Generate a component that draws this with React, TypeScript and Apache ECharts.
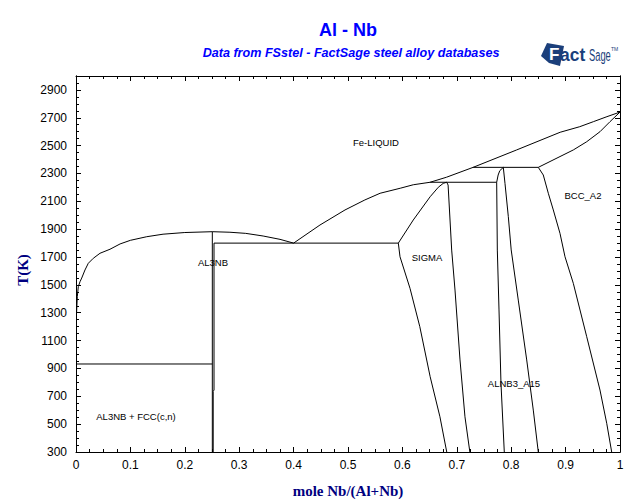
import React, { useEffect, useRef } from 'react';
import * as echarts from 'echarts';

type Pt = [number, number];

// Axis settings (values)
const xMin = 0;
const xMax = 1;
const xStep = 0.1;
const tMin = 300;
const tMax = 3000;
const tMajorStep = 200;
const tMinorStep = 50;

// Phase boundaries, [mole Nb/(Al+Nb), T (K)]
const liquidusAlSide: Pt[] = [
  [0.001, 1296], [0.0024, 1415], [0.0042, 1487], [0.0074, 1523], [0.0105, 1549],
  [0.0165, 1607], [0.0226, 1655], [0.0318, 1691], [0.0441, 1727], [0.0625, 1756],
  [0.081, 1794], [0.1, 1820], [0.13, 1846], [0.16, 1864], [0.2, 1876], [0.2506, 1882],
];
const liquidusAl3NbRight: Pt[] = [
  [0.2506, 1882], [0.283, 1878], [0.312, 1870], [0.344, 1851], [0.375, 1827], [0.4, 1800],
];
const liquidusNbSide: Pt[] = [
  [0.4, 1800], [0.4485, 1930], [0.4945, 2038], [0.531, 2110], [0.559, 2158], [0.596, 2194],
  [0.62, 2219], [0.651, 2237], [0.681, 2273], [0.73, 2344], [0.81, 2469], [0.89, 2596],
  [0.926, 2636], [0.951, 2672], [0.976, 2708], [1, 2741],
];
const al3nbLeftLine: Pt[] = [[0.2506, 300], [0.2506, 1882]];
const al3nbRightLine: Pt[] = [
  [0.5925, 1800], [0.2537, 1800], [0.2537, 745], [0.2522, 735], [0.2522, 300],
];
const eutecticAl: Pt[] = [[0, 932], [0.2506, 932]];
const sigmaLeft: Pt[] = [
  [0.6815, 2237], [0.675, 2229], [0.666, 2201], [0.651, 2133], [0.62, 1966], [0.5925, 1800],
  [0.5956, 1702], [0.614, 1475], [0.632, 1200], [0.651, 841], [0.669, 553], [0.6815, 300],
];
const sigmaRight: Pt[] = [
  [0.6815, 2237], [0.684, 2217], [0.6906, 1750], [0.6967, 1463], [0.7059, 961], [0.715, 553], [0.724, 300],
];
const peritecticSigma: Pt[] = [[0.651, 2237], [0.7733, 2237]];
const a15Left: Pt[] = [
  [0.7855, 2344], [0.779, 2320], [0.776, 2289], [0.7733, 2237], [0.7745, 1750],
  [0.7776, 1320], [0.7812, 793], [0.7873, 300],
];
const a15Right: Pt[] = [
  [0.7855, 2344], [0.7886, 2229], [0.7947, 1990], [0.8, 1751], [0.813, 1391],
  [0.8285, 961], [0.8406, 601], [0.8498, 300],
];
const peritecticA15: Pt[] = [[0.73, 2344], [0.8498, 2344]];
const bccBoundary: Pt[] = [
  [0.8498, 2344], [0.859, 2289], [0.8682, 2158], [0.8774, 2038], [0.8897, 1870],
  [0.8989, 1702], [0.9142, 1511], [0.9388, 1128], [0.9632, 745], [0.9756, 506], [0.9847, 300],
];
const bccSolidus: Pt[] = [
  [0.8498, 2344], [0.9142, 2469], [0.9388, 2528], [0.9632, 2600], [0.9816, 2672], [1, 2741],
];

const boundaries: Pt[][] = [
  liquidusAlSide, liquidusAl3NbRight, liquidusNbSide, al3nbLeftLine, al3nbRightLine,
  eutecticAl, sigmaLeft, sigmaRight, peritecticSigma, a15Left, a15Right, peritecticA15,
  bccBoundary, bccSolidus,
];

// Region labels
const regionNames = ['Fe-LIQUID', 'AL3NB', 'SIGMA', 'BCC_A2', 'ALNB3_A15', 'AL3NB + FCC(c,n)'];
const regionPos: Pt[] = [[376, 142], [213, 262], [427, 257], [583, 195], [514, 383], [136, 416]];

const SANS = '"Liberation Sans", Arial, sans-serif';
const SERIF = '"Liberation Serif", "Times New Roman", serif';
const NAVY = '#1B3F7B';

export default function App() {
  const ref = useRef<HTMLDivElement>(null);
  useEffect(() => {
    if (!ref.current) return;
    const chart = echarts.init(ref.current, null, { renderer: 'svg' });
    const axisLine = { show: true, lineStyle: { color: '#000', width: 1 } };
    const xAxisBase = (pos: 'bottom' | 'top', labels: boolean) => ({
      type: 'value',
      position: pos,
      min: xMin,
      max: xMax,
      interval: xStep,
      axisLine,
      axisTick: { show: true, inside: true, length: 5, lineStyle: { color: '#000' } },
      minorTick: { show: true, splitNumber: 4, length: 3, lineStyle: { color: '#000' } },
      splitLine: { show: false },
      minorSplitLine: { show: false },
      axisLabel: labels
        ? { show: true, color: '#000', fontSize: 12, fontFamily: SANS, margin: 7 }
        : { show: false },
    });
    const yAxisBase = (pos: 'left' | 'right', step: number, tickLen: number, labels: boolean) => ({
      type: 'value',
      position: pos,
      min: tMin,
      max: tMax,
      interval: step,
      axisLine,
      axisTick: { show: true, inside: true, length: tickLen, lineStyle: { color: '#000' } },
      splitLine: { show: false },
      axisLabel: labels
        ? {
            show: true,
            color: '#000',
            fontSize: 12,
            fontFamily: SANS,
            margin: 9,
            showMaxLabel: false,
            formatter: (v: number) => (v === tMax ? '' : String(v)),
          }
        : { show: false },
    });

    const graphics: any[] = [
      {
        type: 'text',
        x: 348,
        y: 30,
        style: {
          text: 'Al - Nb',
          fill: '#0000FF',
          font: `bold 18px ${SANS}`,
          textAlign: 'center',
          textVerticalAlign: 'middle',
        },
      },
      {
        type: 'text',
        x: 351,
        y: 53,
        style: {
          text: 'Data from FSstel - FactSage steel alloy databases',
          fill: '#0000FF',
          font: `italic bold 12.6px ${SANS}`,
          textAlign: 'center',
          textVerticalAlign: 'middle',
        },
      },
      {
        type: 'text',
        x: 348,
        y: 491,
        style: {
          text: 'mole Nb/(Al+Nb)',
          fill: '#000080',
          font: `bold 15px ${SERIF}`,
          textAlign: 'center',
          textVerticalAlign: 'middle',
        },
      },
      {
        type: 'text',
        x: 23,
        y: 270,
        rotation: Math.PI / 2,
        style: {
          text: 'T(K)',
          fill: '#000080',
          font: `bold 15px ${SERIF}`,
          textAlign: 'center',
          textVerticalAlign: 'middle',
        },
      },
      // FactSage logo
      {
        type: 'polygon',
        shape: { points: [[541, 56], [547, 43], [564, 46], [560, 66], [549, 63]] },
        style: { fill: NAVY },
      },
      {
        type: 'text',
        x: 549,
        y: 63,
        style: { text: 'F', fill: '#ffffff', font: `bold 17px ${SANS}`, textVerticalAlign: 'bottom' },
      },
      {
        type: 'text',
        x: 560,
        y: 64,
        scaleX: 0.92,
        style: { text: 'act', fill: NAVY, font: `bold 19px ${SANS}`, textVerticalAlign: 'bottom' },
      },
      {
        type: 'text',
        x: 589,
        y: 64,
        scaleX: 0.55,
        style: { text: 'Sage', fill: NAVY, font: `17px ${SANS}`, textVerticalAlign: 'bottom' },
      },
      {
        type: 'text',
        x: 611,
        y: 46,
        style: { text: 'TM', fill: NAVY, font: `5px ${SANS}`, textVerticalAlign: 'top' },
      },
    ];
    regionNames.forEach((name, i) => {
      graphics.push({
        type: 'text',
        x: regionPos[i][0],
        y: regionPos[i][1],
        style: {
          text: name,
          fill: '#000',
          font: `9.5px ${SANS}`,
          textAlign: 'center',
          textVerticalAlign: 'middle',
        },
      });
    });

    chart.setOption({
      animation: false,
      backgroundColor: '#ffffff',
      grid: { left: 76, right: 20, top: 76, bottom: 52, containLabel: false },
      xAxis: [xAxisBase('bottom', true), xAxisBase('top', false)],
      yAxis: [
        yAxisBase('left', tMajorStep, 5, true),
        yAxisBase('left', tMinorStep, 3, false),
        yAxisBase('right', tMajorStep, 5, false),
        yAxisBase('right', tMinorStep, 3, false),
      ],
      series: boundaries.map((d) => ({
        type: 'line',
        xAxisIndex: 0,
        yAxisIndex: 0,
        data: d,
        showSymbol: false,
        symbol: 'none',
        silent: true,
        lineStyle: { color: '#000', width: 1 },
      })),
      graphic: graphics,
    });
    return () => chart.dispose();
  }, []);
  return (
    <div
      ref={ref}
      style={{ position: 'fixed', left: 0, top: 0, width: 640, height: 504, background: '#fff' }}
    />
  );
}
